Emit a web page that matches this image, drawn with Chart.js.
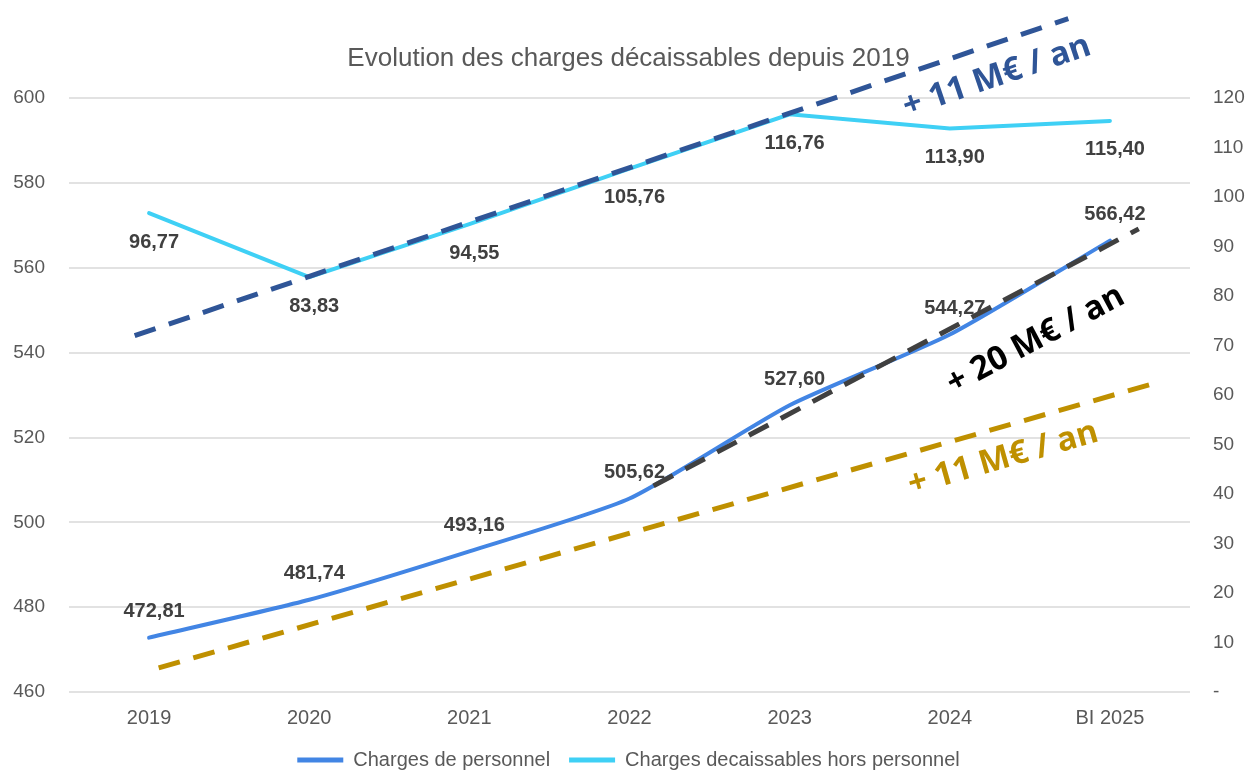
<!DOCTYPE html>
<html lang="fr">
<head>
<meta charset="UTF-8">
<title>Evolution des charges décaissables</title>
<script src="https://cdn.jsdelivr.net/npm/chart.js@4.4.0/dist/chart.umd.min.js"></script>
<style>
  html, body { margin: 0; padding: 0; background: #fff; }
</style>
</head>
<body>
<canvas id="myChart" width="1257" height="771"></canvas>
<script>
// Données (M€)
const years = ['2019', '2020', '2021', '2022', '2023', '2024', 'BI 2025'];
const personnel = [472.81, 481.74, 493.16, 505.62, 527.60, 544.27, 566.42];
const horsPersonnel = [96.77, 83.83, 94.55, 105.76, 116.76, 113.90, 115.40];

// Tendances : début / fin (x = index de l'année, y = valeur)
const trendHorsX = [-0.09, 5.74];
const trendHorsY = [72.0, 136.1];
const trendPersX = [3.15, 6.18];
const trendPersY = [508.6, 569.2];
const trendBasX = [0.06, 6.28];
const trendBasY = [465.7, 532.8];
const trendTexts = ['+ 11 M€ / an', '+ 20 M€ / an', '+ 11 M€ / an'];

const leftTicks = [460, 600, 20];
const rightTicks = [0, 120, 10];

const toPoints = (xs, ys) => ys.map((y, i) => ({x: xs[i], y: y}));
const idx = years.map((_, i) => i);

const fmt = v => v.toFixed(2).replace('.', ',');

// étiquettes de valeurs + textes des tendances
const labelsPlugin = {
    id: 'labelsPlugin',
    afterDatasetsDraw(chart) {
        const ctx = chart.ctx;
        ctx.save();
        ctx.font = 'bold 20px "Liberation Sans", Arial, sans-serif';
        ctx.fillStyle = '#404040';
        ctx.textAlign = 'center';
        ctx.textBaseline = 'middle';
        [0, 1].forEach(di => {
            const meta = chart.getDatasetMeta(di);
            const shift = di === 0 ? -26 : 29;
            meta.data.forEach((pt, i) => {
                ctx.fillText(fmt(chart.data.datasets[di].data[i].y), pt.x + 5, pt.y + shift);
            });
        });

        // textes le long des droites de tendance
        const notes = [
            {ds: 2, at: 5.23, offset: 32, color: '#2f5597'},
            {ds: 3, at: 5.39, offset: 50, color: '#000000'},
            {ds: 4, at: 5.28, offset: 31, color: '#bf9000'}
        ];
        ctx.font = 'bold 33px "Open Sans", "Noto Sans", sans-serif';
        notes.forEach((n, k) => {
            const ds = chart.data.datasets[n.ds];
            const xs = chart.scales.x;
            const ys = chart.scales[ds.yAxisID];
            const a = ds.data[0], b = ds.data[1];
            const x0 = xs.getPixelForValue(a.x), y0 = ys.getPixelForValue(a.y);
            const x1 = xs.getPixelForValue(b.x), y1 = ys.getPixelForValue(b.y);
            const t = (n.at - a.x) / (b.x - a.x);
            const angle = Math.atan2(y1 - y0, x1 - x0);
            ctx.save();
            ctx.translate(x0 + t * (x1 - x0), y0 + t * (y1 - y0));
            ctx.rotate(angle);
            ctx.fillStyle = n.color;
            ctx.fillText(trendTexts[k], 0, n.offset);
            ctx.restore();
        });
        ctx.restore();
    }
};

Chart.defaults.font.family = '"Liberation Sans", Arial, sans-serif';
Chart.defaults.color = '#595959';

const bottomPad = -9;

const ctx = document.getElementById('myChart').getContext('2d');
const myChart = new Chart(ctx, {
    type: 'line',
    data: {
        datasets: [{
            label: 'Charges de personnel',
            data: toPoints(idx, personnel),
            yAxisID: 'y',
            borderColor: '#4285e4',
            backgroundColor: '#4285e4',
            borderWidth: 4,
            tension: 0.2,
            pointRadius: 0,
            borderCapStyle: 'round',
            order: 1
        }, {
            label: 'Charges decaissables hors personnel',
            data: toPoints(idx, horsPersonnel),
            yAxisID: 'y1',
            borderColor: '#3fd0f5',
            backgroundColor: '#3fd0f5',
            borderWidth: 4,
            tension: 0,
            pointRadius: 0,
            borderCapStyle: 'round',
            order: 1
        }, {
            label: 'tendance hors personnel',
            data: toPoints(trendHorsX, trendHorsY),
            yAxisID: 'y1',
            borderColor: '#2f5597',
            borderWidth: 5,
            borderDash: [22, 14],
            pointRadius: 0,
            clip: false,
            order: 0
        }, {
            label: 'tendance personnel',
            data: toPoints(trendPersX, trendPersY),
            yAxisID: 'y',
            borderColor: '#404040',
            borderWidth: 5,
            borderDash: [22, 14],
            pointRadius: 0,
            clip: false,
            order: 0
        }, {
            label: 'tendance 11',
            data: toPoints(trendBasX, trendBasY),
            yAxisID: 'y',
            borderColor: '#bf9000',
            borderWidth: 5,
            borderDash: [22, 14],
            pointRadius: 0,
            clip: false,
            order: 0
        }]
    },
    options: {
        responsive: false,
        animation: false,
        layout: { padding: { top: 0, left: 0, right: 0, bottom: bottomPad } },
        scales: {
            x: {
                type: 'linear',
                min: -0.5,
                max: 6.5,
                grid: { display: false },
                border: { display: false },
                afterBuildTicks: axis => { axis.ticks = idx.map(v => ({ value: v })); },
                ticks: {
                    autoSkip: false,
                    maxRotation: 0,
                    padding: 6,
                    font: { size: 20 },
                    color: '#595959',
                    callback: v => years[v]
                },
                afterFit: scale => {
                    scale.height = 771 - bottomPad - scale.chart.legend.height - 692;
                }
            },
            y: {
                position: 'left',
                min: leftTicks[0],
                max: leftTicks[1],
                grid: { color: '#e2e2e2', lineWidth: 2, drawTicks: false },
                border: { display: false },
                ticks: { stepSize: leftTicks[2], padding: 24, font: { size: 19 }, color: '#595959' },
                afterFit: scale => { scale.width = 69; }
            },
            y1: {
                position: 'right',
                min: rightTicks[0],
                max: rightTicks[1],
                grid: { display: false, drawTicks: false },
                border: { display: false },
                ticks: {
                    stepSize: rightTicks[2],
                    padding: 23,
                    font: { size: 19 },
                    color: '#595959',
                    callback: v => v === 0 ? '-' : v
                },
                afterFit: scale => { scale.width = 67; }
            }
        },
        plugins: {
            title: {
                display: true,
                text: 'Evolution des charges décaissables depuis 2019',
                color: '#595959',
                font: { size: 26, weight: 'normal' },
                padding: { top: 43, bottom: 24 }
            },
            legend: {
                position: 'bottom',
                labels: {
                    boxWidth: 46,
                    boxHeight: 5,
                    padding: 19,
                    color: '#595959',
                    font: { size: 20 },
                    generateLabels: chart => Chart.defaults.plugins.legend.labels.generateLabels(chart)
                        .filter(item => item.datasetIndex < 2)
                        .map(item => Object.assign(item, { lineWidth: 0, fillStyle: item.strokeStyle }))
                }
            },
            tooltip: { enabled: false }
        }
    },
    plugins: [labelsPlugin]
});
</script>
</body>
</html>
